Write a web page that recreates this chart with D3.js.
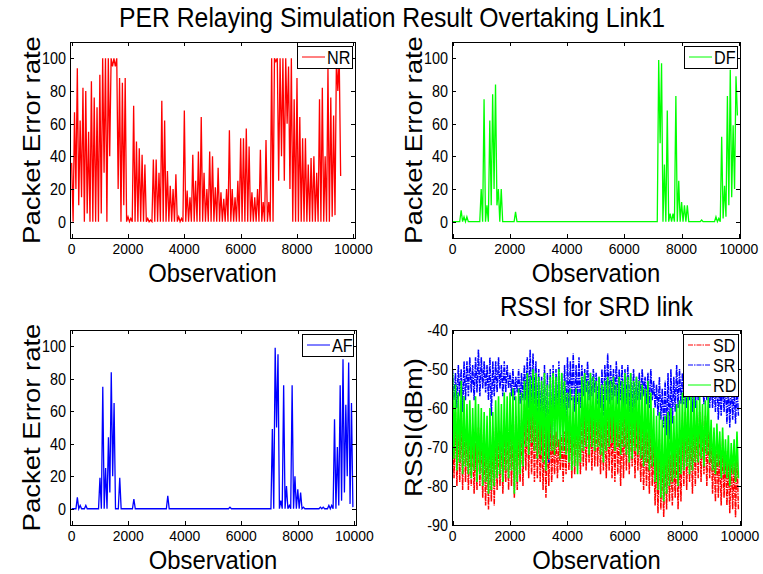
<!DOCTYPE html>
<html>
<head>
<meta charset="utf-8">
<script src="https://cdn.jsdelivr.net/npm/d3@7"></script>
<style>
  body { margin: 0; background: #fff; }
  svg { display: block; font-family: "Liberation Sans", Arial, sans-serif; }
</style>
</head>
<body>
<div id="chart"></div>
<script>
// bins of 100 observations: each bin gives a peak then a trough
const binSize = 100;

const xTicks = [0, 2000, 4000, 6000, 8000, 10000];
const perTicks = [0, 20, 40, 60, 80, 100];
const rssiTicks = [-90, -80, -70, -60, -50, -40];

// NR packet error rate (peak / trough per bin)
const nrHi = [36, 67, 94, 62, 82, 80, 55, 86, 76, 70,
  90, 100, 100, 100, 100, 100, 100, 88, 85, 88,
  3, 2, 71, 49, 45, 41, 35, 2, 1, 38,
  38, 30, 74, 62, 31, 22, 20, 29, 3, 2,
  68, 19, 15, 41, 25, 43, 64, 30, 20, 43,
  40, 21, 33, 18, 14, 20, 56, 20, 15, 25,
  51, 51, 57, 46, 18, 15, 20, 44, 12, 50,
  12, 100, 100, 100, 100, 100, 100, 95, 100, 75,
  88, 64, 51, 51, 35, 39, 40, 30, 75, 82,
  40, 94, 76, 65, 100, 100];
const nrLo = [0, 20, 10, 15, 0, 5, 0, 0, 0, 0,
  5, 30, 0, 40, 95, 95, 20, 0, 10, 0,
  0, 0, 0, 0, 0, 0, 0, 0, 0, 0,
  0, 0, 0, 0, 0, 0, 0, 0, 0, 0,
  0, 0, 0, 0, 0, 0, 0, 0, 0, 0,
  0, 0, 0, 0, 0, 0, 0, 0, 0, 0,
  0, 0, 0, 0, 0, 0, 0, 0, 0, 0,
  0, 0, 98, 25, 40, 25, 60, 20, 0, 0,
  0, 0, 0, 0, 0, 0, 0, 0, 0, 0,
  0, 0, 3, 4, 80, 28];

// DF packet error rate
const dfHi = [0, 0, 0, 7, 3, 3, 0, 0, 0, 0,
  20, 75, 10, 62, 78, 84, 20, 20, 0, 0,
  0, 0, 6, 0, 0, 0, 0, 0, 0, 0,
  0, 0, 0, 0, 0, 0, 0, 0, 0, 0,
  0, 0, 0, 0, 0, 0, 0, 0, 0, 0,
  0, 0, 0, 0, 0, 0, 0, 0, 0, 0,
  0, 0, 0, 0, 0, 0, 0, 0, 0, 0,
  0, 0, 99, 97, 35, 68, 5, 5, 77, 25,
  12, 10, 10, 0, 0, 0, 0, 1, 0, 0,
  0, 0, 3, 2, 52, 22, 77, 93, 59, 89];
const dfLo = [0, 0, 0, 0, 0, 0, 0, 0, 0, 0,
  0, 0, 0, 10, 20, 10, 0, 0, 0, 0,
  0, 0, 0, 0, 0, 0, 0, 0, 0, 0,
  0, 0, 0, 0, 0, 0, 0, 0, 0, 0,
  0, 0, 0, 0, 0, 0, 0, 0, 0, 0,
  0, 0, 0, 0, 0, 0, 0, 0, 0, 0,
  0, 0, 0, 0, 0, 0, 0, 0, 0, 0,
  0, 0, 48, 0, 0, 0, 0, 0, 0, 0,
  0, 0, 0, 0, 0, 0, 0, 0, 0, 0,
  0, 0, 0, 0, 2, 3, 10, 15, 20, 65];

// AF packet error rate
const afHi = [0, 0, 7, 2, 0, 2, 0, 0, 0, 0,
  19, 75, 25, 44, 84, 65, 0, 19, 0, 0,
  0, 0, 6, 0, 0, 0, 0, 0, 0, 0,
  0, 0, 0, 0, 8, 0, 0, 0, 0, 0,
  0, 0, 0, 0, 0, 0, 0, 0, 0, 0,
  0, 0, 0, 0, 0, 0, 1, 0, 0, 0,
  0, 0, 0, 0, 0, 0, 0, 0, 0, 0,
  0, 49, 99, 95, 5, 76, 14, 2, 76, 20,
  12, 10, 1, 0, 0, 0, 0, 0, 1, 1,
  0, 2, 2, 55, 38, 76, 92, 64, 90, 65];
const afLo = [0, 0, 0, 0, 0, 0, 0, 0, 0, 0,
  0, 0, 0, 10, 20, 0, 0, 0, 0, 0,
  0, 0, 0, 0, 0, 0, 0, 0, 0, 0,
  0, 0, 0, 0, 0, 0, 0, 0, 0, 0,
  0, 0, 0, 0, 0, 0, 0, 0, 0, 0,
  0, 0, 0, 0, 0, 0, 0, 0, 0, 0,
  0, 0, 0, 0, 0, 0, 0, 0, 0, 0,
  0, 0, 50, 0, 0, 0, 0, 0, 0, 0,
  0, 0, 0, 0, 0, 0, 0, 0, 0, 0,
  0, 0, 0, 0, 2, 5, 10, 20, 3, 1];

// RSSI envelopes (dBm), upper / lower per bin
const sdHi = [-58, -61, -63, -60, -62, -64, -67, -66, -69, -65,
  -66, -68, -67, -69, -66, -65, -67, -66, -68, -64,
  -63, -65, -62, -64, -63, -59, -57, -58, -60, -59,
  -62, -64, -63, -65, -63, -67, -66, -68, -67, -66,
  -62, -64, -61, -63, -62, -60, -61, -59, -62, -60,
  -61, -60, -62, -61, -60, -61, -62, -60, -63, -61,
  -60, -61, -62, -60, -61, -63, -65, -64, -66, -64,
  -69, -71, -68, -72, -70, -70, -72, -71, -69, -70,
  -63, -61, -62, -64, -62, -62, -61, -63, -62, -64,
  -67, -69, -68, -70, -68, -71, -73, -72, -74, -72];
const sdLo = [-78, -80, -79, -81, -79, -81, -80, -82, -81, -80,
  -83, -85, -86, -84, -85, -81, -80, -82, -79, -81,
  -80, -83, -81, -79, -80, -76, -78, -77, -79, -78,
  -79, -81, -83, -80, -79, -77, -78, -76, -79, -77,
  -76, -78, -77, -75, -77, -75, -76, -74, -76, -75,
  -75, -77, -76, -78, -76, -78, -79, -77, -80, -78,
  -76, -77, -75, -78, -76, -79, -81, -80, -82, -80,
  -85, -87, -86, -88, -86, -84, -85, -83, -86, -84,
  -80, -81, -79, -82, -80, -78, -79, -77, -80, -78,
  -82, -84, -83, -85, -83, -85, -87, -86, -88, -86];
const srHi = [-50, -51, -49, -50, -48, -48, -47, -49, -47, -45,
  -47, -48, -49, -47, -48, -48, -47, -49, -48, -49,
  -51, -50, -52, -50, -51, -49, -47, -45, -46, -48,
  -50, -52, -49, -51, -50, -49, -50, -48, -51, -49,
  -47, -48, -46, -49, -47, -49, -50, -48, -51, -50,
  -51, -52, -50, -49, -46, -49, -50, -48, -50, -49,
  -50, -49, -51, -50, -52, -51, -50, -52, -51, -50,
  -53, -54, -52, -55, -53, -51, -50, -52, -49, -50,
  -51, -52, -50, -52, -51, -51, -50, -52, -51, -52,
  -52, -53, -51, -54, -52, -53, -54, -52, -55, -54];
const srLo = [-58, -60, -57, -61, -58, -57, -56, -58, -56, -57,
  -55, -56, -58, -62, -57, -56, -55, -57, -56, -55,
  -57, -58, -56, -59, -58, -58, -60, -61, -59, -62,
  -63, -66, -70, -74, -68, -66, -63, -65, -62, -64,
  -60, -58, -61, -59, -60, -57, -56, -58, -57, -56,
  -59, -60, -62, -58, -59, -58, -57, -59, -58, -60,
  -59, -61, -62, -60, -58, -58, -57, -59, -60, -58,
  -60, -62, -63, -65, -67, -68, -64, -61, -60, -59,
  -59, -60, -58, -61, -60, -58, -57, -59, -58, -60,
  -60, -61, -63, -62, -61, -64, -65, -63, -64, -62];
const rdHi = [-51, -54, -56, -53, -57, -59, -58, -60, -57, -59,
  -60, -61, -62, -60, -61, -58, -57, -59, -56, -57,
  -56, -55, -57, -55, -56, -53, -51, -52, -50, -51,
  -52, -53, -51, -54, -52, -51, -52, -50, -51, -53,
  -56, -55, -57, -55, -56, -52, -51, -53, -51, -52,
  -53, -52, -54, -53, -52, -53, -52, -54, -52, -53,
  -51, -52, -51, -53, -52, -53, -54, -55, -53, -56,
  -60, -62, -61, -63, -62, -61, -60, -62, -59, -58,
  -56, -57, -55, -57, -56, -58, -57, -59, -58, -57,
  -63, -65, -64, -66, -65, -68, -67, -69, -68, -66];
const rdLo = [-73, -76, -74, -77, -75, -77, -78, -76, -79, -77,
  -80, -79, -82, -81, -80, -78, -77, -79, -76, -78,
  -76, -82, -79, -77, -75, -70, -72, -69, -71, -73,
  -72, -74, -76, -73, -71, -72, -70, -73, -71, -72,
  -74, -76, -75, -77, -74, -71, -70, -72, -70, -71,
  -70, -72, -74, -71, -70, -69, -71, -70, -72, -70,
  -72, -74, -73, -71, -72, -73, -75, -74, -76, -75,
  -79, -81, -83, -84, -82, -80, -79, -78, -80, -77,
  -76, -75, -77, -76, -74, -74, -73, -75, -72, -74,
  -76, -77, -75, -78, -77, -78, -80, -77, -79, -78];

const width = 763, height = 574;
const sx = 0.9; // the figure's text is a little narrow
const svg = d3.select("#chart").append("svg")
    .attr("width", width)
    .attr("height", height);

function htext(parent, x, y, size, anchor, str) {
    return parent.append("text")
        .attr("transform", `translate(${x},${y}) scale(${sx},1)`)
        .attr("text-anchor", anchor)
        .style("font-size", size + "px")
        .text(str);
}

// main title
htext(svg, 392, 27, 27.5, "middle", "PER Relaying Simulation Result Overtaking Link1");

// turn hi/lo arrays into a zigzag point list
function zigzag(hi, lo) {
    const pts = [];
    hi.forEach((h, i) => {
        pts.push([i * binSize, h]);
        pts.push([i * binSize + binSize / 2, lo[i]]);
    });
    return pts;
}

let clipId = 0;
function panel(cfg) {
    const x = d3.scaleLinear().domain(cfg.xDomain).range([cfg.left, cfg.left + cfg.w]);
    const y = d3.scaleLinear().domain(cfg.yDomain).range([cfg.top + cfg.h, cfg.top]);
    const g = svg.append("g");
    const id = "clip" + (clipId++);
    g.append("clipPath").attr("id", id).append("rect")
        .attr("x", cfg.left).attr("y", cfg.top).attr("width", cfg.w).attr("height", cfg.h);

    const line = d3.line().x(d => x(d[0])).y(d => y(d[1]));
    const plot = g.append("g").attr("clip-path", `url(#${id})`);
    cfg.series.forEach(s => {
        plot.append("path")
            .attr("d", line(zigzag(s.hi, s.lo)))
            .attr("fill", "none")
            .attr("stroke", s.color)
            .attr("stroke-width", s.sw || 1.3)
            .attr("stroke-dasharray", s.dash || null);
    });

    // frame with inward ticks on all four sides
    const tl = 4;
    const axes = g.append("g").attr("stroke", "#000").attr("stroke-width", 1);
    xTicks.forEach(t => {
        const px = Math.round(x(t)) + 0.5;
        axes.append("line").attr("x1", px).attr("x2", px).attr("y1", cfg.top + cfg.h).attr("y2", cfg.top + cfg.h - tl);
        axes.append("line").attr("x1", px).attr("x2", px).attr("y1", cfg.top).attr("y2", cfg.top + tl);
    });
    cfg.yTicks.forEach(t => {
        const py = Math.round(y(t)) + 0.5;
        axes.append("line").attr("x1", cfg.left).attr("x2", cfg.left + tl).attr("y1", py).attr("y2", py);
        axes.append("line").attr("x1", cfg.left + cfg.w).attr("x2", cfg.left + cfg.w - tl).attr("y1", py).attr("y2", py);
    });
    g.append("rect")
        .attr("x", cfg.left + 0.5).attr("y", cfg.top + 0.5)
        .attr("width", cfg.w).attr("height", cfg.h)
        .attr("fill", "none").attr("stroke", "#000");

    // tick labels
    xTicks.forEach(t => htext(g, x(t), cfg.top + cfg.h + 16, 15.5, "middle", t));
    cfg.yTicks.forEach(t => htext(g, cfg.left - 4, y(t) + 6, 16, "end", t));

    // axis labels
    htext(g, cfg.left + cfg.w / 2, cfg.top + cfg.h + 44, 26.5, "middle", "Observation");
    g.append("text")
        .attr("transform", `translate(${cfg.left - 30},${cfg.top + cfg.h / 2}) rotate(-90) scale(1,${sx})`)
        .attr("text-anchor", "middle")
        .style("font-size", "27.5px")
        .text(cfg.yLabel);
    if (cfg.title) {
        htext(g, cfg.left + cfg.w / 2, cfg.top - 14, 27, "middle", cfg.title);
    }

    // legend
    const lg = g.append("g");
    const lw = cfg.legendW, lh = 2 + cfg.series.length * 20;
    const lx = cfg.left + cfg.w - lw - 3, ly = cfg.top + 4;
    lg.append("rect").attr("x", lx + 0.5).attr("y", ly + 0.5).attr("width", lw).attr("height", lh)
        .attr("fill", "#fff").attr("stroke", "#000");
    cfg.series.forEach((s, i) => {
        const cy = ly + 11 + i * 20;
        lg.append("line").attr("x1", lx + 5).attr("x2", lx + 28).attr("y1", cy).attr("y2", cy)
            .attr("stroke", s.color).attr("stroke-dasharray", s.dash || null);
        htext(lg, lx + 30, cy + 6.5, 18, "start", s.name);
    });
}

panel({left: 70, top: 42, w: 285, h: 196, xDomain: [-60, 10060], yDomain: [-10, 110],
    yTicks: perTicks, yLabel: "Packet Error rate", legendW: 55,
    series: [{name: "NR", color: "#ff0000", hi: nrHi, lo: nrLo}]});
panel({left: 452, top: 42, w: 288, h: 196, xDomain: [-20, 10040], yDomain: [-10, 110],
    yTicks: perTicks, yLabel: "Packet Error rate", legendW: 53,
    series: [{name: "DF", color: "#00ff00", hi: dfHi, lo: dfLo}]});
panel({left: 70, top: 330, w: 286, h: 195, xDomain: [-60, 10060], yDomain: [-10, 110],
    yTicks: perTicks, yLabel: "Packet Error rate", legendW: 51,
    series: [{name: "AF", color: "#0000ff", hi: afHi, lo: afLo}]});
panel({left: 452, top: 330, w: 289, h: 195, xDomain: [-20, 10040], yDomain: [-90, -40],
    yTicks: rssiTicks, yLabel: "RSSI(dBm)", legendW: 55, title: "RSSI for SRD link",
    series: [
        {name: "SD", color: "#ff0000", hi: sdHi, lo: sdLo, dash: "5,1,1.5,1", sw: 1.5},
        {name: "SR", color: "#0000ff", hi: srHi, lo: srLo, dash: "5,1,1.5,1", sw: 1.5},
        {name: "RD", color: "#00ff00", hi: rdHi, lo: rdLo, sw: 1.6}
    ]});
</script>
</body>
</html>
